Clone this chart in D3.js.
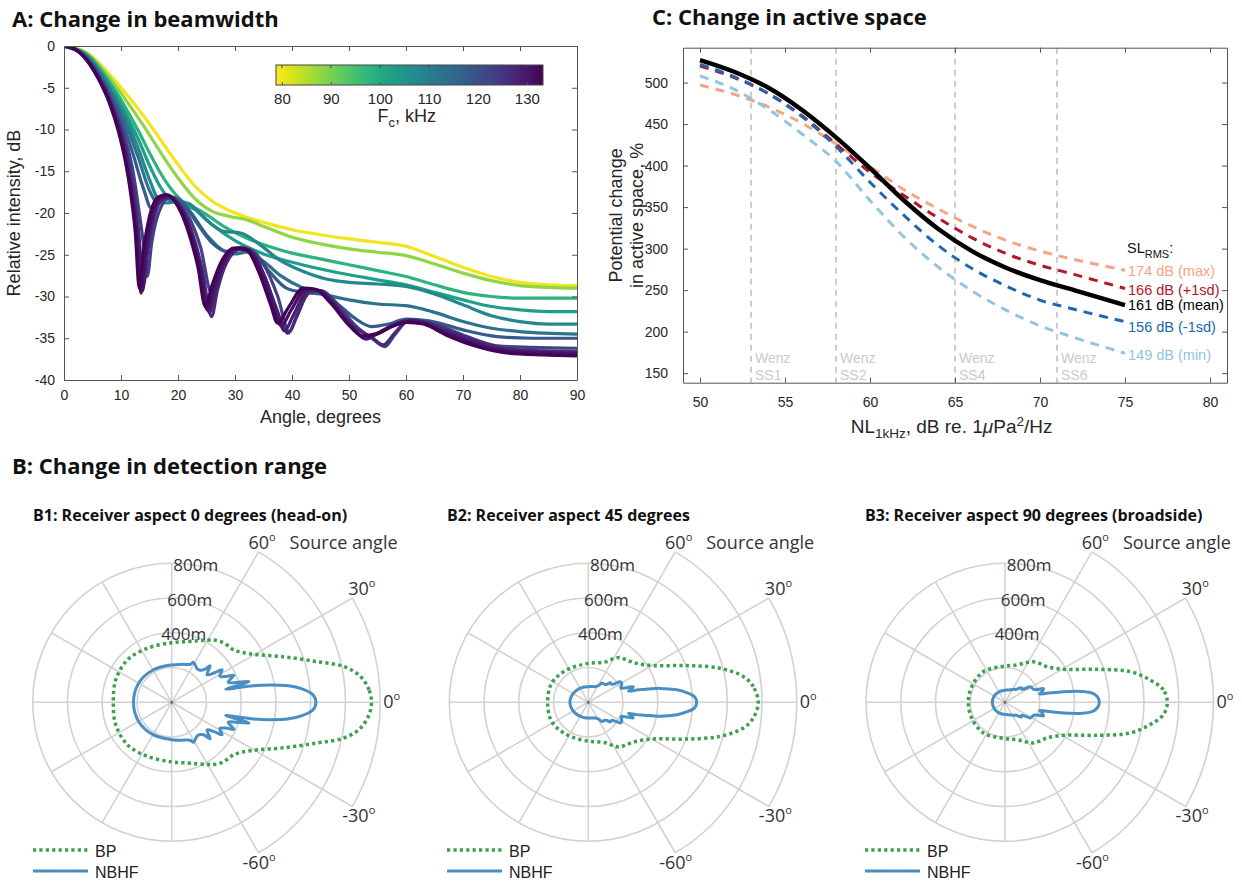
<!DOCTYPE html>
<html>
<meta charset="UTF-8">
<style>
body { margin: 0; background: #fff; }
svg { font-family: "Liberation Sans", Arial, sans-serif; }
.title { font-family: "Open Sans", sans-serif; font-weight: 700; font-size: 22px; fill: #111; }
.sub { font-family: "Open Sans", sans-serif; font-weight: 700; font-size: 16px; fill: #111; }
.axis text { font-family: "Liberation Sans", Arial, sans-serif; font-size: 14px; fill: #262626; }
.axis path, .axis line { stroke: #555; }
.lab { font-size: 18px; fill: #262626; }
.polar text { font-family: "Open Sans", sans-serif; font-size: 17px; fill: #333; }
</style>
<svg width="1242" height="882"></svg>
<script src="https://d3js.org/d3.v7.min.js"></script>
<script>
//	---- panel A data: relative intensity (dB) against angle, one array per click frequency
var beamFreqs = [80, 88, 98, 103, 108, 113, 118, 123, 127, 129, 131, 133];
var beam80 = [[0,0],[4,-0.8],[8,-3.4],[11,-5.8],[14,-8.4],[17,-11.3],[20,-14.2],[23,-16.8],[26,-18.6],[29,-19.7],[32,-20.5],[36,-21.3],[40,-22],[45,-22.6],[50,-23.1],[55,-23.5],[60,-24],[65,-25.2],[70,-26.5],[75,-27.6],[80,-28.3],[85,-28.6],[90,-28.7]];
var beam88 = [[0,0],[4,-0.9],[8,-3.8],[11,-6.6],[14,-9.6],[17,-12.8],[20,-15.8],[23,-18.3],[26,-19.8],[29,-20.4],[32,-20.8],[35,-21.6],[40,-22.9],[45,-23.7],[50,-24.3],[55,-24.7],[60,-25.1],[65,-26.1],[70,-27.2],[75,-28.1],[80,-28.7],[85,-28.9],[90,-29]];
var beam98 = [[0,0],[4,-1],[8,-4.3],[11,-7.6],[13,-10.1],[15,-12.8],[17,-15.3],[19,-17.3],[21,-18.7],[23,-19.4],[25,-20.2],[28,-21.6],[32,-23],[36,-24],[40,-24.8],[45,-25.5],[50,-26.2],[55,-26.9],[60,-27.6],[65,-28.6],[70,-29.5],[75,-30],[80,-30.2],[90,-30.2]];
var beam103 = [[0,0],[4,-1.1],[8,-4.7],[11,-8.3],[13,-11.1],[15,-14.3],[17,-17],[19,-18.6],[21,-19],[23,-19.6],[26,-21.4],[30,-23.3],[35,-24.9],[40,-25.9],[45,-26.7],[50,-27.4],[55,-28],[60,-28.6],[65,-29.5],[70,-30.4],[75,-31.2],[80,-31.6],[85,-31.8],[90,-31.8]];
var beam108 = [[0,0],[4,-1.2],[8,-5],[11,-8.9],[13,-12.2],[15,-16],[16.5,-18.3],[18,-18.8],[20,-18.6],[22,-18.9],[24,-20.2],[26,-21.4],[28,-22.2],[31,-22.4],[34,-23.6],[38,-25.7],[42,-27],[46,-27.9],[50,-28.3],[55,-28.5],[60,-28.8],[65,-29.7],[70,-31],[75,-32.3],[80,-33],[85,-33.3],[90,-33.3]];
var beam113 = [[0,0],[4,-1.3],[8,-5.3],[11,-9.6],[13,-13.3],[15,-17.3],[16.5,-18.8],[18,-18.3],[20,-18.5],[22,-19.7],[25,-22.6],[28,-24.5],[30,-24.9],[32,-24.7],[35,-25.8],[38,-27.5],[42,-29],[46,-29.8],[50,-30.4],[55,-30.9],[60,-31.1],[65,-31.9],[70,-33],[75,-33.8],[80,-34.2],[90,-34.5]];
var beam118 = [[0,0],[4,-1.4],[8,-5.7],[10,-8.7],[12,-12.7],[14,-17.2],[15.3,-19.4],[17,-18.4],[19,-18.1],[21,-18.9],[23,-20.9],[26,-23.6],[28.5,-24.6],[31,-24.3],[33.5,-25.1],[36,-27],[39,-29],[42,-29.5],[45,-29.7],[48,-30.9],[51,-32.6],[54,-33.6],[57,-33.3],[60,-32.7],[64,-32.9],[70,-34],[76,-34.8],[82,-35],[90,-35]];
var beam123 = [[0,0],[4,-1.5],[8,-6.1],[10,-9.6],[12,-14.6],[13,-19],[14,-24],[14.6,-27.6],[15.4,-23.5],[17,-19.3],[18.5,-18.2],[20,-18.7],[22,-20.6],[24,-24.2],[25.9,-29.6],[27,-27.6],[29,-25],[31,-24.1],[33,-24.5],[35,-26.1],[37.5,-30],[39.5,-34.2],[41,-32],[43,-29.6],[45,-29.3],[48,-30.9],[51,-33.4],[54,-35],[56.3,-36],[58,-34.6],[60.5,-32.9],[64,-33.1],[70,-34.6],[76,-35.9],[82,-36.1],[90,-36.2]];
var beam127 = [[0,0],[2,-0.4],[4,-1.6],[6,-3.6],[8,-6.4],[10,-10.2],[11,-12.8],[12,-16.5],[13,-21.5],[14,-28.5],[14.7,-24.5],[15.7,-20.8],[17.2,-18.4],[18.7,-18.1],[20.2,-19.1],[22.2,-21.8],[24.2,-26.6],[25.9,-32.4],[26.9,-29.3],[28.5,-26],[30.8,-24.4],[32.8,-24.7],[35.2,-27.6],[37.2,-31.3],[39.3,-34.4],[40.8,-32.5],[43.2,-29.2],[45.2,-29.4],[48,-31.3],[51,-33.7],[54,-34.9],[56,-35.8],[58,-34.4],[60.6,-32.8],[63,-33],[67,-34],[72,-35.2],[78,-36.3],[84,-36.5],[90,-36.6]];
var beam129 = [[0,0],[2,-0.4],[4,-1.6],[6,-3.7],[8,-6.5],[9.6,-9.8],[11,-13.6],[12,-17.6],[13,-23.2],[13.8,-29.3],[14.5,-24.6],[15.5,-20.6],[17,-18.3],[18.5,-18],[20,-18.9],[22,-21.6],[24,-26.7],[25.5,-31.9],[26.5,-29.2],[28.2,-25.9],[30.5,-24.3],[32.5,-24.5],[35,-27.3],[37,-31],[38.7,-34.1],[40.2,-32.3],[42.8,-29.3],[44.8,-29.3],[47.5,-31],[50.5,-33.6],[53,-35.1],[55,-34.4],[57.5,-33.5],[60.3,-32.9],[63,-33.1],[67,-34.2],[72,-35.5],[78,-36.5],[84,-36.7],[90,-36.8]];
var beam131 = [[0,0],[2,-0.4],[4,-1.7],[6,-3.8],[8,-6.7],[9.6,-10],[10.8,-13.5],[11.8,-17.5],[12.7,-22.5],[13.5,-29.6],[14.3,-24.3],[15.3,-20.5],[16.8,-18.2],[18.3,-17.9],[19.8,-18.8],[21.8,-21.6],[23.8,-26.6],[25.1,-31.6],[26.2,-29],[28,-25.8],[30.2,-24.2],[32.2,-24.4],[34.6,-27.2],[36.6,-31],[38.1,-33.5],[39.8,-31.7],[42.5,-29.1],[44.5,-29.2],[47.2,-30.9],[50.2,-33.5],[52.7,-34.9],[55,-34.5],[57.5,-33.6],[60.3,-33],[63,-33.2],[67,-34.4],[72,-35.7],[78,-36.6],[84,-36.8],[90,-36.9]];
var beam133 = [[0,0],[2,-0.4],[4,-1.7],[6,-3.9],[8,-6.9],[9.5,-10.1],[10.7,-13.6],[11.7,-17.7],[12.5,-22.3],[13.2,-29],[14,-24.2],[15,-20.4],[16.5,-18.1],[18,-17.8],[19.5,-18.7],[21.5,-21.6],[23.5,-26.5],[24.8,-31.2],[25.9,-28.8],[27.7,-25.7],[29.8,-24.2],[31.8,-24.3],[34.2,-27.1],[36.2,-30.9],[37.5,-33.2],[39.3,-31.4],[42,-29],[44,-29.1],[46.8,-30.8],[49.8,-33.3],[52.3,-34.7],[55,-34.4],[57.5,-33.6],[60.2,-33.1],[63,-33.3],[67,-34.6],[72,-35.9],[78,-36.8],[84,-37],[90,-37.1]];
var beamCurves = [beam80, beam88, beam98, beam103, beam108, beam113, beam118, beam123, beam127, beam129, beam131, beam133];
var angleTicks = [0, 10, 20, 30, 40, 50, 60, 70, 80, 90];
var dbTicks = [-40, -35, -30, -25, -20, -15, -10, -5, 0];
var fcTicks = [80, 90, 100, 110, 120, 130];

//	---- panel C data: change in active space (%) against noise level
var nlLevels = [50, 52, 54, 56, 58, 60, 62, 64, 66, 68, 70, 72, 75];
var asMax = [497, 486, 471, 451, 426, 399, 371, 348, 327, 310, 297, 287, 274];
var asPlus1sd = [520, 506, 487, 460, 426, 392, 364, 337, 313, 294, 280, 269, 252];
var asMean = [527, 513, 494, 467, 434, 397, 358, 324, 297, 277, 262, 250, 232];
var asMinus1sd = [522, 507, 487, 459, 423, 380, 340, 304, 276, 255, 238, 227, 212];
var asMin = [508, 492, 468, 438, 405, 358, 314, 278, 249, 226, 207, 193, 174];
var slLabels = ["174 dB (max)", "166 dB (+1sd)", "161 dB (mean)", "156 dB (-1sd)", "149 dB (min)"];
var wenzNL = [53, 58, 65, 71];
var wenzStates = ["SS1", "SS2", "SS4", "SS6"];
var nlTicks = [50, 55, 60, 65, 70, 75, 80];
var spaceTicks = [150, 200, 250, 300, 350, 400, 450, 500];

//	---- panel B data: detection range (m) against source angle (deg), upper half, mirrored below
var bpB1 = [[0,1150],[3.6,1138],[7.7,1098],[11.7,1013],[15.6,870],[22,698],[31.5,533],[40,468],[46,458],[51,449],[56,432],[60,413],[67,385],[75.5,361],[90,343],[114,341],[136,353],[158,347],[180,336]];
var nbhfB1 = [[0,830],[3,815],[6,750],[8,680],[10,575],[11.5,480],[12.7,370],[13.6,320],[15,460],[16.5,410],[19.5,345],[23.5,390],[25.5,345],[28.5,315],[32.8,345],[34.5,300],[38,258],[43.5,305],[45.5,262],[52,242],[61.3,262],[64,243],[75,226],[90,215],[120,215],[150,220],[180,220]];
var bpB2 = [[0,978],[5.4,954],[9.4,905],[14.5,783],[20.5,604],[29.4,430],[38.9,357],[47,330],[54.7,315],[60,290],[65.8,257],[75,236],[90,224],[124,224],[152.6,238],[180,234]];
var nbhfB2 = [[0,624],[3,612],[5.6,568],[8,515],[11,420],[13,330],[14.3,287],[15.5,240],[17.5,262],[19.2,274],[21,235],[23.5,205],[27,215],[30,222],[33,218],[35,190],[37.5,170],[42,169],[44,150],[47.5,140],[52,138],[55,134],[58,115],[65,100],[80,92],[90,90],[110,92],[140,98],[160,103],[180,106]];
var bpB3 = [[0,934],[4.5,914],[8.8,844],[13.8,741],[19.8,561],[29.5,386],[40.6,316],[48,300],[55.2,285],[62,258],[72.6,225],[90,209],[125,216],[154.8,212],[180,211]];
var nbhfB3 = [[0,543],[3,535],[5.8,509],[8,450],[10.4,340],[12.2,245],[13.5,205],[16,222],[19.5,235],[21.5,200],[24,182],[28,176],[32,170],[34,142],[38,122],[42,126],[46,110],[50,96],[55,92],[65,80],[80,72],[90,70],[120,70],[150,72],[180,73]];
var rangeRings = [200, 400, 600, 800];
var rangeLabels = [400, 600, 800];
var sourceTicks = [60, 30, 0, -30, -60];

var svg = d3.select("svg");
svg.append("rect").attr("width", 1242).attr("height", 882).attr("fill", "#fff");

//	box with inward ticks on all four sides, labels on bottom and left
function drawBox(x, y, xTicks, yTicks, padX, padY) {
	var xr = x.range(), yr = y.range();
	svg.append("g").attr("class", "axis").attr("transform", "translate(0," + yr[0] + ")")
		.call(d3.axisBottom(x).tickValues(xTicks).tickSizeInner(-5).tickSizeOuter(0).tickPadding(padX).tickFormat(String));
	svg.append("g").attr("class", "axis").attr("transform", "translate(0," + yr[1] + ")")
		.call(d3.axisTop(x).tickValues(xTicks).tickSizeInner(-5).tickSizeOuter(0).tickFormat(""));
	svg.append("g").attr("class", "axis").attr("transform", "translate(" + xr[0] + ",0)")
		.call(d3.axisLeft(y).tickValues(yTicks).tickSizeInner(-5).tickSizeOuter(0).tickPadding(padY).tickFormat(String));
	svg.append("g").attr("class", "axis").attr("transform", "translate(" + xr[1] + ",0)")
		.call(d3.axisRight(y).tickValues(yTicks).tickSizeInner(-5).tickSizeOuter(0).tickFormat(""));
}

// =============== A: Change in beamwidth ===============
var ax = d3.scaleLinear().domain([0, 90]).range([64, 577]);
var ay = d3.scaleLinear().domain([-40, 0]).range([380, 46]);
var fcColor = d3.scaleSequential(d3.interpolateViridis).domain([133.3, 78.8]);

svg.append("text").attr("class", "title").attr("x", 12).attr("y", 27).text("A: Change in beamwidth");

svg.append("clipPath").attr("id", "clipA").append("rect")
	.attr("x", ax(0)).attr("y", ay(0)).attr("width", ax(90) - ax(0)).attr("height", ay(-40) - ay(0));

var beamLine = d3.line().x(function(d) { return ax(d[0]); }).y(function(d) { return ay(d[1]); })
	.curve(d3.curveMonotoneX);

svg.append("g").attr("clip-path", "url(#clipA)")
	.selectAll("path").data(beamCurves).join("path")
	.attr("d", beamLine)
	.attr("fill", "none")
	.attr("stroke", function(d, i) { return fcColor(beamFreqs[i]); })
	.attr("stroke-width", 3.2)
	.attr("stroke-linejoin", "round");

drawBox(ax, ay, angleTicks, dbTicks, 10, 9);

svg.append("text").attr("class", "lab").attr("text-anchor", "middle")
	.attr("x", (ax(0) + ax(90)) / 2).attr("y", 423).text("Angle, degrees");
svg.append("text").attr("class", "lab").attr("text-anchor", "middle")
	.attr("transform", "translate(20," + (ay(-20)) + ") rotate(-90)").text("Relative intensity, dB");

//	colorbar
var cb = d3.scaleLinear().domain([78.8, 133.3]).range([276, 543]);
var grad = svg.append("defs").append("linearGradient").attr("id", "viridisGrad");
grad.selectAll("stop").data(d3.range(0, 1.0001, 0.05)).join("stop")
	.attr("offset", function(t) { return (t * 100) + "%"; })
	.attr("stop-color", function(t) { return fcColor(78.8 + t * (133.3 - 78.8)); });
svg.append("rect").attr("x", cb(78.8)).attr("y", 65).attr("width", cb(133.3) - cb(78.8)).attr("height", 20)
	.attr("fill", "url(#viridisGrad)").attr("stroke", "#444").attr("stroke-width", 1);
var cbAxis = svg.append("g").attr("class", "axis").attr("transform", "translate(0,85)")
	.call(d3.axisBottom(cb).tickValues(fcTicks).tickSizeInner(-3).tickSizeOuter(0).tickPadding(8));
cbAxis.select(".domain").remove();
cbAxis.selectAll("text").style("font-size", "15px");
svg.append("g").selectAll("line").data(fcTicks).join("line")
	.attr("x1", cb).attr("x2", cb).attr("y1", 65).attr("y2", 68).attr("stroke", "#444");
var fcLab = svg.append("text").attr("class", "lab").attr("text-anchor", "middle")
	.attr("x", cb(105.5)).attr("y", 122);
fcLab.append("tspan").text("F");
fcLab.append("tspan").attr("dy", 5).style("font-size", "13px").text("c");
fcLab.append("tspan").attr("dy", -5).text(", kHz");

// =============== C: Change in active space ===============
var cx = d3.scaleLinear().domain([49, 81]).range([683, 1227]);
var cy = d3.scaleLinear().domain([138.5, 542]).range([382.7, 47.7]);

svg.append("text").attr("class", "title").attr("x", 652).attr("y", 25).text("C: Change in active space");

//	Wenz sea-state markers
var wenz = svg.append("g");
wenz.selectAll("line").data(wenzNL).join("line")
	.attr("x1", cx).attr("x2", cx).attr("y1", cy.range()[1]).attr("y2", cy.range()[0])
	.attr("stroke", "#bdbdbd").attr("stroke-width", 1.5).attr("stroke-dasharray", "6,5");
wenz.selectAll("text.w1").data(wenzNL).join("text").attr("class", "w1")
	.attr("x", function(d) { return cx(d) + 4; }).attr("y", 363)
	.style("font-size", "14px").attr("fill", "#cacaca").text("Wenz");
wenz.selectAll("text.w2").data(wenzNL).join("text").attr("class", "w2")
	.attr("x", function(d) { return cx(d) + 4; }).attr("y", 380)
	.style("font-size", "14px").attr("fill", "#cacaca").text(function(d, i) { return wenzStates[i]; });

var spaceSeries = [
	{ vals: asMax, color: "#f4a582", dash: "9,7", width: 3 },
	{ vals: asPlus1sd, color: "#b2182b", dash: "9,7", width: 3 },
	{ vals: asMinus1sd, color: "#2166ac", dash: "9,7", width: 3 },
	{ vals: asMin, color: "#92c5de", dash: "9,7", width: 3 },
	{ vals: asMean, color: "#000000", dash: null, width: 4.5 }
];
var spaceLine = d3.line().x(function(d, i) { return cx(nlLevels[i]); }).y(function(d) { return cy(d); })
	.curve(d3.curveMonotoneX);
svg.append("g").selectAll("path").data(spaceSeries).join("path")
	.attr("d", function(s) { return spaceLine(s.vals); })
	.attr("fill", "none").attr("stroke", function(s) { return s.color; })
	.attr("stroke-width", function(s) { return s.width; })
	.attr("stroke-dasharray", function(s) { return s.dash; });

drawBox(cx, cy, nlTicks, spaceTicks, 14, 15);

//	end labels
var slOrder = [asMax, asPlus1sd, asMean, asMinus1sd, asMin];
var slColors = ["#f4a582", "#b2182b", "#000000", "#2166ac", "#92c5de"];
var slOffset = [6, 7, 5, 10, 7];
svg.append("g").selectAll("text").data(slLabels).join("text")
	.attr("x", 1128)
	.attr("y", function(d, i) { return cy(slOrder[i][slOrder[i].length - 1]) + slOffset[i]; })
	.style("font-size", "14.5px")
	.attr("fill", function(d, i) { return slColors[i]; })
	.text(function(d) { return d; });
var slTitle = svg.append("text").attr("x", 1127).attr("y", 253).style("font-size", "14.5px").attr("fill", "#111");
slTitle.append("tspan").text("SL");
slTitle.append("tspan").attr("dy", 5).style("font-size", "11px").text("RMS");
slTitle.append("tspan").attr("dy", -5).text(":");

var nlLab = svg.append("text").attr("class", "lab").attr("text-anchor", "middle")
	.style("font-size", "19px").attr("x", cx(64.8)).attr("y", 433);
nlLab.append("tspan").text("NL");
nlLab.append("tspan").attr("dy", 5).style("font-size", "13.5px").text("1kHz");
nlLab.append("tspan").attr("dy", -5).text(", dB re. 1");
nlLab.append("tspan").style("font-style", "italic").text("\u03bc");
nlLab.append("tspan").text("Pa");
nlLab.append("tspan").attr("dy", -7).style("font-size", "13.5px").text("2");
nlLab.append("tspan").attr("dy", 7).text("/Hz");

var yLabC = svg.append("text").attr("class", "lab").attr("text-anchor", "middle")
	.attr("transform", "translate(623," + cy(340) + ") rotate(-90)");
yLabC.append("tspan").attr("x", 0).attr("dy", -1).text("Potential change");
yLabC.append("tspan").attr("x", 0).attr("dy", 21).text("in active space, %");

// =============== B: Change in detection range ===============
svg.append("text").attr("class", "title").attr("x", 12).attr("y", 474).text("B: Change in detection range");

var rr = d3.scaleLinear().domain([0, 800]).range([0, 139]);
var rad = Math.PI / 180;

function mirror(arr) {
	var lower = arr.slice(1, arr.length - 1).reverse().map(function(d) { return [-d[0], d[1]]; });
	return arr.concat(lower);
}

var polarLine = d3.lineRadial()
	.angle(function(d) { return (90 - d[0]) * rad; })
	.radius(function(d) { return rr(d[1]); })
	.curve(d3.curveCatmullRomClosed.alpha(0.5));

function spokeLen(a) {
	var m = Math.abs(((a + 180) % 360) - 180);
	if (m <= 30) return 1200;
	if (m <= 60) return 1000;
	return 800;
}

function drawPolar(px, py, bp, nbhf, subtitle, subX) {
	svg.append("text").attr("class", "sub").attr("x", subX).attr("y", 521).text(subtitle);
	var g = svg.append("g").attr("class", "polar").attr("transform", "translate(" + px + "," + py + ")");
	var grid = g.append("g").attr("fill", "none").attr("stroke", "#d2d2d2").attr("stroke-width", 1.6);
	grid.selectAll("circle").data(rangeRings).join("circle").attr("r", rr);
	var p = d3.path();
	p.moveTo(rr(1000) * Math.cos(-60 * rad), rr(1000) * Math.sin(-60 * rad));
	p.arc(0, 0, rr(1000), -60 * rad, 60 * rad);
	p.moveTo(rr(1200) * Math.cos(-30 * rad), rr(1200) * Math.sin(-30 * rad));
	p.arc(0, 0, rr(1200), -30 * rad, 30 * rad);
	grid.append("path").attr("d", p.toString());
	grid.selectAll("line").data(d3.range(0, 360, 30)).join("line")
		.attr("x1", 0).attr("y1", 0)
		.attr("x2", function(a) { return rr(spokeLen(a)) * Math.cos(a * rad); })
		.attr("y2", function(a) { return -rr(spokeLen(a)) * Math.sin(a * rad); });
	g.append("circle").attr("r", 1.6).attr("fill", "#777");

	//	range labels placed along 80 degrees
	g.selectAll("text.rl").data(rangeLabels).join("text").attr("class", "rl")
		.attr("text-anchor", "middle")
		.attr("x", function(d) { return rr(d) * Math.cos(80 * rad); })
		.attr("y", function(d) { return -rr(d) * Math.sin(80 * rad) + 6; })
		.text(function(d) { return d + "m"; });

	//	source angle labels at spoke ends
	var off = { "60": [3.5, -3, "middle"], "30": [-4, -3, "start"], "0": [3, 6, "start"], "-30": [-10, 15, "start"], "-60": [-16, 16, "start"] };
	var al = g.selectAll("text.al").data(sourceTicks).join("text").attr("class", "al")
		.attr("text-anchor", function(a) { return off[a][2]; })
		.attr("x", function(a) { return rr(spokeLen(a)) * Math.cos(a * rad) + off[a][0]; })
		.attr("y", function(a) { return -rr(spokeLen(a)) * Math.sin(a * rad) + off[a][1]; })
		.style("font-size", "18px");
	al.append("tspan").text(function(a) { return a; });
	al.append("tspan").attr("dy", -8).style("font-size", "11px").text("o");
	g.append("text").style("font-size", "18px")
		.attr("x", rr(1000) * Math.cos(60 * rad) + 31).attr("y", -rr(1000) * Math.sin(60 * rad) - 3)
		.text("Source angle");

	g.append("path").attr("d", polarLine(mirror(bp)))
		.attr("fill", "none").attr("stroke", "#3d9f4f").attr("stroke-width", 3.5)
		.attr("stroke-dasharray", "3.2,3.2");
	g.append("path").attr("d", polarLine(mirror(nbhf)))
		.attr("fill", "none").attr("stroke", "#4a8fc4").attr("stroke-width", 3)
		.attr("stroke-linejoin", "round");

	//	legend
	var lg = svg.append("g").attr("transform", "translate(" + (subX) + ",0)");
	lg.append("line").attr("x1", 0).attr("x2", 55).attr("y1", 850).attr("y2", 850)
		.attr("stroke", "#3d9f4f").attr("stroke-width", 3.5).attr("stroke-dasharray", "3.2,3.2");
	lg.append("line").attr("x1", 0).attr("x2", 55).attr("y1", 871).attr("y2", 871)
		.attr("stroke", "#4a8fc4").attr("stroke-width", 3);
	lg.append("text").attr("x", 62).attr("y", 857).style("font-size", "16px").attr("fill", "#222").text("BP");
	lg.append("text").attr("x", 62).attr("y", 878).style("font-size", "16px").attr("fill", "#222").text("NBHF");
}

drawPolar(171.7, 702.3, bpB1, nbhfB1, "B1: Receiver aspect 0 degrees (head-on)", 33);
drawPolar(588.3, 702.3, bpB2, nbhfB2, "B2: Receiver aspect 45 degrees", 447);
drawPolar(1005, 702.3, bpB3, nbhfB3, "B3: Receiver aspect 90 degrees (broadside)", 865);
</script>
</html>
